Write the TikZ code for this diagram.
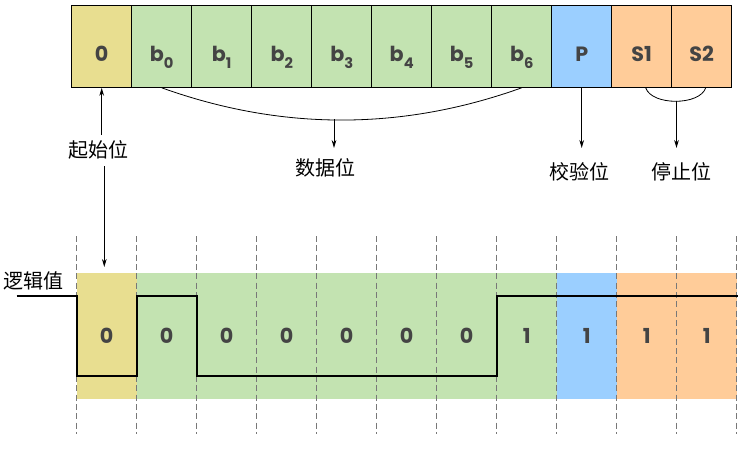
\documentclass[tikz,border=0pt]{standalone}
\usepackage{fontspec}
\setmainfont{Poppins}
\newfontfamily\cjk{Noto Sans CJK SC}
\usetikzlibrary{arrows.meta}

\definecolor{bitYellow}{RGB}{232,222,144}
\definecolor{bitGreen}{RGB}{195,227,177}
\definecolor{bitBlue}{RGB}{155,207,255}
\definecolor{bitOrange}{RGB}{255,204,153}
\definecolor{bitText}{RGB}{68,68,68}
\definecolor{gridGray}{RGB}{120,120,120}

\newcommand{\bsub}[1]{b\raisebox{-5pt}{\fontsize{11}{13}\selectfont #1}}

\tikzset{
    TOP_CELL/.style={draw=black, line width=0.75pt, shape=rectangle,
        minimum width=45pt, minimum height=61.5pt, inner sep=0pt,
        text height=23.1pt, text depth=0pt,
        font={\fontsize{15.5}{18}\selectfont\bfseries}, text=bitText},
    YELLOW_CELL/.style={TOP_CELL, fill=bitYellow},
    GREEN_CELL/.style={TOP_CELL, fill=bitGreen},
    BLUE_CELL/.style={TOP_CELL, fill=bitBlue},
    ORANGE_CELL/.style={TOP_CELL, fill=bitOrange},
    WAVE_CELL/.style={shape=rectangle, minimum width=45pt, minimum height=94.5pt,
        inner sep=0pt, text height=11.4pt, text depth=0pt,
        font={\fontsize{15.5}{18}\selectfont\bfseries}, text=bitText},
    YELLOW_WAVE/.style={WAVE_CELL, fill=bitYellow},
    GREEN_WAVE/.style={WAVE_CELL, fill=bitGreen},
    BLUE_WAVE/.style={WAVE_CELL, fill=bitBlue},
    ORANGE_WAVE/.style={WAVE_CELL, fill=bitOrange},
    LABEL/.style={inner sep=0pt, font={\cjk\fontsize{15}{18}\selectfont}},
    ARROW/.style={draw=black, line width=0.75pt, -{Stealth[length=6pt, width=3.5pt]}},
    BRACE/.style={draw=black, line width=0.6pt},
    GRID/.style={draw=gridGray, line width=0.6pt, dash pattern=on 4.5pt off 2.5pt},
    SIGNAL/.style={draw=black, line width=1.3pt}
}
\pgfdeclarelayer{celllayer}
\pgfsetlayers{celllayer,main}

\begin{document}
\begin{tikzpicture}[x=0.75pt, y=-0.75pt]
    \useasboundingbox (0,0) rectangle (745,471);
    % frame layout
    \node [YELLOW_CELL] (t0) at (101.7, 46.3) {0};
    \node [GREEN_CELL] (t1) at (161.7, 46.3) {\bsub{0}};
    \node [GREEN_CELL] (t2) at (221.7, 46.3) {\bsub{1}};
    \node [GREEN_CELL] (t3) at (281.7, 46.3) {\bsub{2}};
    \node [GREEN_CELL] (t4) at (341.7, 46.3) {\bsub{3}};
    \node [GREEN_CELL] (t5) at (401.7, 46.3) {\bsub{4}};
    \node [GREEN_CELL] (t6) at (461.7, 46.3) {\bsub{5}};
    \node [GREEN_CELL] (t7) at (521.7, 46.3) {\bsub{6}};
    \node [BLUE_CELL] (t8) at (581.7, 46.3) {P};
    \node [ORANGE_CELL] (t9) at (641.7, 46.3) {S1};
    \node [ORANGE_CELL] (t10) at (701.7, 46.3) {S2};

    \node [LABEL] (start) at (98.3, 150) {起始位};
    \node [LABEL] (data) at (325, 168) {数据位};
    \node [LABEL] (parity) at (579, 171.7) {校验位};
    \node [LABEL] (stop) at (681.7, 171.7) {停止位};
    \node [LABEL] (logic) at (33.7, 280.7) {逻辑值};

    % waveform
    \begin{pgfonlayer}{celllayer}
        \node [YELLOW_WAVE] (w0) at (106.7, 335.7) {0};
        \node [GREEN_WAVE] (w1) at (166.7, 335.7) {0};
        \node [GREEN_WAVE] (w2) at (226.7, 335.7) {0};
        \node [GREEN_WAVE] (w3) at (286.7, 335.7) {0};
        \node [GREEN_WAVE] (w4) at (346.7, 335.7) {0};
        \node [GREEN_WAVE] (w5) at (406.7, 335.7) {0};
        \node [GREEN_WAVE] (w6) at (466.7, 335.7) {0};
        \node [GREEN_WAVE] (w7) at (526.7, 335.7) {1};
        \node [BLUE_WAVE] (w8) at (586.7, 335.7) {1};
        \node [ORANGE_WAVE] (w9) at (646.7, 335.7) {1};
        \node [ORANGE_WAVE] (w10) at (706.7, 335.7) {1};
    \end{pgfonlayer}

    \draw[GRID] (76.7,236) -- (76.7,434) (136.7,236) -- (136.7,434)
        (196.7,236) -- (196.7,434) (256.7,236) -- (256.7,434)
        (316.7,236) -- (316.7,434) (376.7,236) -- (376.7,434)
        (436.7,236) -- (436.7,434) (496.7,236) -- (496.7,434)
        (556.7,236) -- (556.7,434) (616.7,236) -- (616.7,434)
        (676.7,236) -- (676.7,434) (736.7,236) -- (736.7,434);

    \draw[SIGNAL] (16.7,296) -- (76.7,296) -- (76.7,375.7) -- (136.7,375.7)
        -- (136.7,296) -- (196.7,296) -- (196.7,375.7) -- (496.7,375.7)
        -- (496.7,296) -- (737.5,296);

    % pointers
    \coordinate (startUp) at (101.7, 135);
    \coordinate (startDown) at (104.3, 166);
    \coordinate (startEnd) at (104.3, 267);
    \coordinate (dataTip) at (334, 119.3);
    \coordinate (dataEnd) at (334, 148);
    \coordinate (parityEnd) at (581.7, 148);
    \coordinate (stopTip) at (676.5, 100.5);
    \coordinate (stopEnd) at (676.5, 148);

    \draw[ARROW] (startUp) to (t0.south);
    \draw[ARROW] (startDown) to (startEnd);
    \draw[BRACE] (t1.south) .. controls +(120,43) and +(-120,43) .. (t7.south);
    \draw[ARROW] (dataTip) to (dataEnd);
    \draw[ARROW] (t8.south) to (parityEnd);
    \draw[BRACE] ([xshift=3pt]t9.south) .. controls +(6,18) and +(-6,18) .. ([xshift=3pt]t10.south);
    \draw[ARROW] (stopTip) to (stopEnd);
\end{tikzpicture}
\end{document}
